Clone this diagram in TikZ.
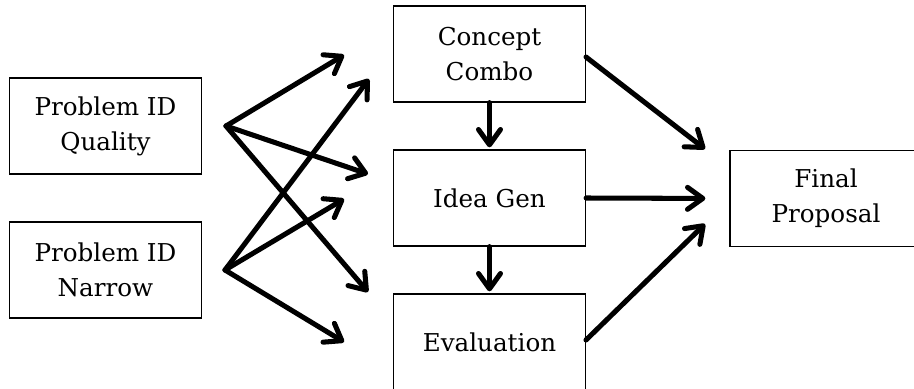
\documentclass[tikz,border=0pt]{standalone}
\usepackage{fontspec}
\setmainfont{DejaVu Serif}
\usepackage{tikz}
\usetikzlibrary{arrows.meta}
\newcommand{\bW}{192}
\newcommand{\bH}{96}
\tikzset{
  pbox/.style  ={draw=black,line width=1.1pt,rectangle,inner sep=0pt,
                 minimum width=\bW*0.03cm,minimum height=\bH*0.03cm,
                 align=center,font=\fontsize{21}{30}\selectfont},
  parr/.style  ={line width=4.3pt,line cap=round,
                 -{Straight Barb[length=4.6mm,width=6.6mm,round]}},
}
\begin{document}
\begin{tikzpicture}[x=0.03cm,y=-0.03cm]
  \useasboundingbox (0,0) rectangle (914,389);
  % boxes
  \node[pbox] (qual)  at (105.5,126) {Problem ID\\Quality};
  \node[pbox] (narr)  at (105.5,270) {Problem ID\\Narrow};
  \node[pbox] (combo) at (489.5,54)  {Concept\\Combo};
  \node[pbox] (idea)  at (489.5,198) {Idea Gen};
  \node[pbox] (evalb) at (489.5,342) {Evaluation};
  \node[pbox] (final) at (826,198.5) {Final\\Proposal};
  % fan-out points and free arrow ends
  \coordinate (qsrc) at (226,126);
  \coordinate (nsrc) at (225,270);
  \coordinate (qa) at (344,55);
  \coordinate (qb) at (368,174);
  \coordinate (qc) at (368,292);
  \coordinate (na) at (369,79);
  \coordinate (nb) at (344,199);
  \coordinate (nc) at (344,342);
  \coordinate (fa) at (705,149);
  \coordinate (fc) at (705,224);
  \coordinate (ca) at (586,57);
  \coordinate (ea) at (586,340);
  % arrows
  \draw[parr] (qsrc) -- (qa);
  \draw[parr] (qsrc) -- (qb);
  \draw[parr] (qsrc) -- (qc);
  \draw[parr] (nsrc) -- (na);
  \draw[parr] (nsrc) -- (nb);
  \draw[parr] (nsrc) -- (nc);
  \draw[parr,shorten >=0.06cm] (combo.south) -- (idea.north);
  \draw[parr,shorten >=0.06cm] (idea.south) -- (evalb.north);
  \draw[parr] (ca) -- (fa);
  \draw[parr,shorten >=0.72cm] (idea.east) -- (final.west);
  \draw[parr] (ea) -- (fc);
\end{tikzpicture}
\end{document}
